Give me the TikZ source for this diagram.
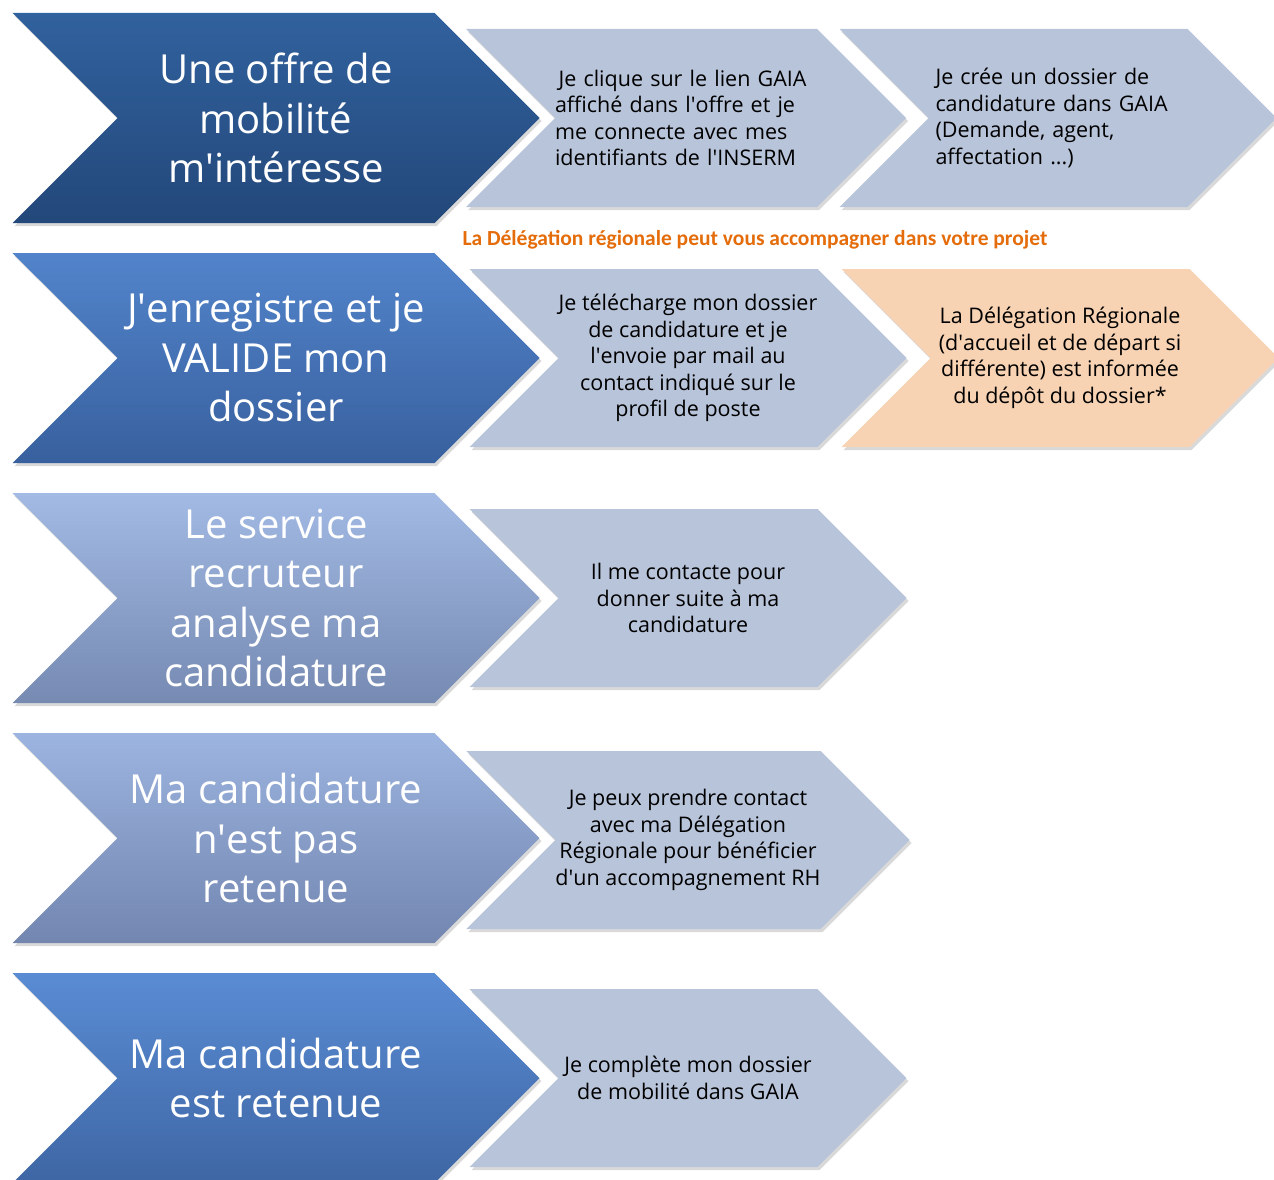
\documentclass[tikz,border=0pt]{standalone}
\usepackage{fontspec}
\setmainfont{Open Sans}
\newfontfamily\notefont{Carlito}
\newcommand\q{\textquotesingle}
\usetikzlibrary{shapes.symbols,shadows}

\definecolor{bigtop1}{RGB}{49,97,158}
\definecolor{bigbot1}{RGB}{35,72,122}
\definecolor{bigtop2}{RGB}{82,132,203}
\definecolor{bigbot2}{RGB}{56,96,158}
\definecolor{bigtop3}{RGB}{162,186,228}
\definecolor{bigbot3}{RGB}{118,138,178}
\definecolor{bigtop4}{RGB}{156,180,224}
\definecolor{bigbot4}{RGB}{114,134,176}
\definecolor{bigtop5}{RGB}{90,140,212}
\definecolor{bigbot5}{RGB}{62,102,164}
\definecolor{stepgray}{RGB}{184,196,218}
\definecolor{steppeach}{RGB}{247,210,179}
\definecolor{noteorange}{RGB}{228,108,10}

\tikzset{
  chevron/.style={signal, signal from=west, signal to=east, signal pointer angle=90,
    inner sep=0pt, align=center,
    drop shadow={shadow xshift=2pt, shadow yshift=-3pt, opacity=0.3}},
  bigstep/.style={chevron, minimum width=527pt, minimum height=210pt, text=white,
    font=\fontsize{40}{49.5}\selectfont},
  smallstep/.style={chevron, minimum width=437pt, minimum height=178pt, fill=stepgray,
    font=\fontsize{21.5}{26.5}\selectfont},
}

\begin{document}
\begin{tikzpicture}[x=1pt,y=-1pt]
  \useasboundingbox (0,0) rectangle (1274,1180);

  % small steps
  \node[smallstep, text width=262pt, align=left] (click) at (686,118) {\,Je clique sur le lien GAIA\\affiché dans l\q offre et je\\me connecte avec mes\\identifiants de l\q INSERM};
  \node[smallstep, text width=245pt, align=left] (create) at (1058,118) {Je crée un dossier de\\candidature dans GAIA\\(Demande, agent,\\affectation ...)};
  \node[smallstep] (send) at (688,358) {Je télécharge mon dossier\\de candidature et je\\l\q envoie par mail au\\contact indiqué sur le\\profil de poste};
  \node[smallstep, fill=steppeach] (inform) at (1060,358) {La Délégation Régionale\\(d\q accueil et de départ si\\différente) est informée\\du dépôt du dossier*};
  \node[smallstep] (contact) at (688,598) {Il me contacte pour\\donner suite à ma\\candidature};
  \node[smallstep] (support) at (688,840) {Je peux prendre contact\\avec ma Délégation\\Régionale  pour bénéficier\\d\q un accompagnement RH};
  \node[smallstep] (complete) at (688,1078) {Je complète mon dossier\\de mobilité dans GAIA};

  % big steps
  \foreach[count=\i] \t in {{Une offre de\\mobilité\\m\q intéresse},
                            {J\q enregistre et je\\VALIDE mon\\dossier},
                            {Le service\\recruteur\\analyse ma\\candidature},
                            {Ma candidature\\n\q est pas\\retenue},
                            {Ma candidature\\est retenue}} {
    \pgfmathsetmacro\y{118+(\i-1)*240}
    \node[bigstep, top color=bigtop\i, bottom color=bigbot\i] (big\i) at (276,\y) {\t};
  }

  % note
  \node[text=noteorange, font=\notefont\fontsize{21.5}{26}\selectfont\bfseries] (note) at (755,240)
    {La Délégation régionale peut vous accompagner dans votre projet};
\end{tikzpicture}
\end{document}
